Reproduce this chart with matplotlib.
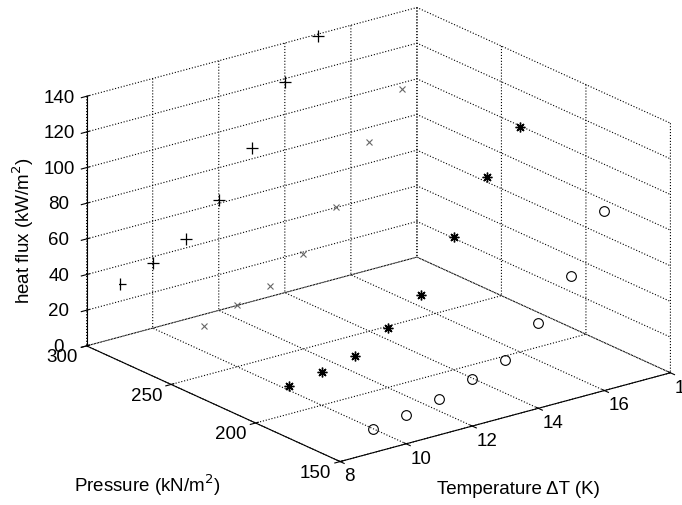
import numpy as np
import matplotlib
matplotlib.use("Agg")
import matplotlib.pyplot as plt

plt.rcParams['font.family'] = ['Liberation Sans', 'DejaVu Sans']
plt.rcParams['font.size'] = 13.5
plt.rcParams['grid.linestyle'] = ':'
plt.rcParams['grid.color'] = 'k'
plt.rcParams['grid.linewidth'] = 0.8

# ── Data ──────────────────────────────────────────────────────────────────────
dT_300 = [9, 10, 11, 12, 13, 14, 15]
q_300 = [30, 36.6, 45, 62, 86, 118, 139]

dT_250 = [9, 10, 11, 12, 13, 14, 15]
q_250 = [28, 34.4, 40, 53, 74.5, 106, 131]

dT_200 = [9, 10, 11, 12, 13, 14, 15, 16]
q_200 = [16, 18.7, 22.7, 33.4, 47, 74.5, 103, 126.4]

dT_150 = [9, 10, 11, 12, 13, 14, 15, 16, 17]
q_150 = [13.5, 15.9, 20.4, 26.6, 32.3, 47.6, 69, 100.5, 128.7]

x_ticks = [8, 10, 12, 14, 16, 18]
y_ticks = [150, 200, 250, 300]
z_ticks = [0, 20, 40, 60, 80, 100, 120, 140]

fig = plt.figure(figsize=(6.82, 5.06), dpi=100)
ax = fig.add_axes([0.045, 0.021, 1.0, 1.0], projection='3d', proj_type='ortho')
ax.view_init(elev=20.5, azim=-127.5)
ax.set_box_aspect((1, 1, 0.64), zoom=1.24)

ax.plot(dT_300, [300] * len(dT_300), q_300, ls='none', marker='+', ms=8, mew=0.9, color='k')
ax.plot(dT_250, [250] * len(dT_250), q_250, ls='none', marker='x', ms=4.5, mew=0.8, color='0.4')
ax.plot(dT_200, [200] * len(dT_200), q_200, ls='none', marker=(8, 2, 0), ms=7, mew=1.0, color='k')
ax.plot(dT_150, [150] * len(dT_150), q_150, ls='none', marker='o', ms=7, mew=0.8,
        mfc='none', mec='k')

ax.set_xlim(8, 18); ax.set_ylim(150, 300); ax.set_zlim(0, 140)
ax.set_xticks(x_ticks); ax.set_yticks(y_ticks); ax.set_zticks(z_ticks)
ax.set_xticklabels([str(v) for v in x_ticks], ha='left', va='top')
ax.set_yticklabels([str(v) for v in y_ticks], ha='right', va='center_baseline')
ax.set_zticklabels([str(v) for v in z_ticks], va='center_baseline')
ax.xaxis.set_tick_params(pad=-5)
ax.yaxis.set_tick_params(pad=-3)
ax.zaxis.set_tick_params(pad=1)

for a in (ax.xaxis, ax.yaxis, ax.zaxis):
    a.set_pane_color((1, 1, 1, 0))
    a.pane.set_edgecolor('none')
    a.line.set_color('k')
    a.line.set_linewidth(0.8)

fig.text(147 / 682, 1 - 485 / 506, "Pressure (kN/m$^2$)", ha='center', va='center')
fig.text(518 / 682, 1 - 490 / 506, "Temperature ΔT (K)", ha='center', va='center')
fig.text(23 / 682, 1 - 231 / 506, "heat flux (kW/m$^2$)", ha='center', va='center', rotation=90)

plt.savefig("out.png", dpi=100)
